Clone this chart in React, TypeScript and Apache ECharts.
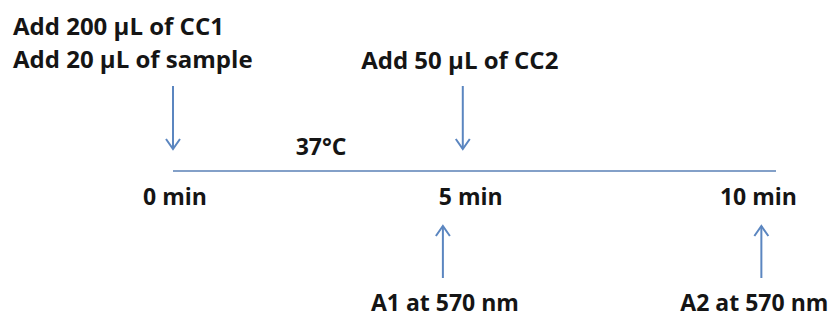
import { useEffect, useRef } from "react";
import * as echarts from "echarts";

// ---- data (time in minutes) ----
const timePoints = [0, 5, 10];
const timeLabels = ["0 min", "5 min", "10 min"];
const timelineEnd = 10.3;

const additionTimes = [0, 4.95];
const additionTexts = ["Add 200 μL of CC1\nAdd 20 μL of sample", "Add 50 μL of CC2"];

const readingTimes = [4.61, 10.05];
const readingTexts = ["A1 at 570 nm", "A2 at 570 nm"];

const temperatureTimes = [2.53];
const temperatureTexts = ["37°C"];

// ---- layout (pixel rows / offsets) ----
const W = 835;
const H = 318;
const LINE_Y = 171;
const ADD_TOP = 86;
const ADD_TIP = 149;
const READ_BOTTOM = 278;
const READ_TIP = 226;
const TIME_LABEL_Y = 196;
const TIME_LABEL_DX = [2, 5, 0];
const READ_LABEL_Y = 302;
const READ_LABEL_DX = [2, -7];
const TEMP_LABEL_Y = 146;
const ADD_LABEL_LAYOUT = [
  { dx: -160, y: 41.5, align: "left" },
  { dx: -3, y: 59, align: "center" },
];

const BLUE = "#5b86c0";
const LINE_BLUE = "#5a80b6";
const TEXT = "#151515";
const FAMILY = "'Open Sans', sans-serif";

function arrowItem(params: any, api: any) {
  const t = api.value(0);
  const p1 = api.coord([t, api.value(1)]);
  const p2 = api.coord([t, api.value(2)]);
  const dir = p2[1] > p1[1] ? 1 : -1;
  return {
    type: "group",
    children: [
      {
        type: "line",
        shape: { x1: p1[0], y1: p1[1], x2: p2[0], y2: p2[1] },
        style: { stroke: BLUE, lineWidth: 2 },
      },
      {
        type: "polyline",
        shape: {
          points: [
            [p2[0] - 7, p2[1] - dir * 10],
            [p2[0], p2[1]],
            [p2[0] + 7, p2[1] - dir * 10],
          ],
        },
        style: { stroke: BLUE, lineWidth: 2, fill: "none" },
      },
    ],
  };
}

function textSeries(
  times: number[],
  texts: string[],
  layout: (i: number) => { dx: number; y: number; align: string },
  fontSize: number,
  lineHeight: number
) {
  return {
    type: "custom",
    coordinateSystem: "cartesian2d",
    clip: false,
    silent: true,
    data: times.map((t, i) => [t, layout(i).y]),
    renderItem: (params: any, api: any) => {
      const i = params.dataIndex;
      const l = layout(i);
      const p = api.coord([api.value(0), api.value(1)]);
      return {
        type: "text",
        style: {
          text: texts[i],
          x: p[0] + l.dx,
          y: p[1],
          align: l.align,
          verticalAlign: "middle",
          lineHeight,
          fill: TEXT,
          fontFamily: FAMILY,
          fontWeight: "bold",
          fontSize,
        },
      };
    },
  };
}

export default function App() {
  const ref = useRef<HTMLDivElement>(null);
  useEffect(() => {
    if (!ref.current) return;
    const chart = echarts.init(ref.current, undefined, { renderer: "svg" });
    chart.setOption({
      animation: false,
      backgroundColor: "#ffffff",
      grid: { left: 173, right: W - 776, top: 0, bottom: 0 },
      xAxis: { type: "value", min: 0, max: timelineEnd, show: false },
      yAxis: { type: "value", min: 0, max: H, inverse: true, show: false },
      series: [
        {
          type: "line",
          symbol: "none",
          silent: true,
          data: [
            [0, LINE_Y],
            [timelineEnd, LINE_Y],
          ],
          lineStyle: { color: LINE_BLUE, width: 1.5 },
        },
        {
          type: "custom",
          coordinateSystem: "cartesian2d",
          clip: false,
          silent: true,
          data: additionTimes.map((t) => [t, ADD_TOP, ADD_TIP]),
          renderItem: arrowItem,
        },
        {
          type: "custom",
          coordinateSystem: "cartesian2d",
          clip: false,
          silent: true,
          data: readingTimes.map((t) => [t, READ_BOTTOM, READ_TIP]),
          renderItem: arrowItem,
        },
        textSeries(additionTimes, additionTexts, (i) => ADD_LABEL_LAYOUT[i], 24, 33),
        textSeries(readingTimes, readingTexts, (i) => ({ dx: READ_LABEL_DX[i], y: READ_LABEL_Y, align: "center" }), 23, 24),
        textSeries(timePoints, timeLabels, (i) => ({ dx: TIME_LABEL_DX[i], y: TIME_LABEL_Y, align: "center" }), 23, 24),
        textSeries(temperatureTimes, temperatureTexts, () => ({ dx: 0, y: TEMP_LABEL_Y, align: "center" }), 23, 24),
      ],
    });
    return () => chart.dispose();
  }, []);
  return (
    <div
      ref={ref}
      style={{ position: "absolute", left: 0, top: 0, width: W, height: H }}
    />
  );
}
